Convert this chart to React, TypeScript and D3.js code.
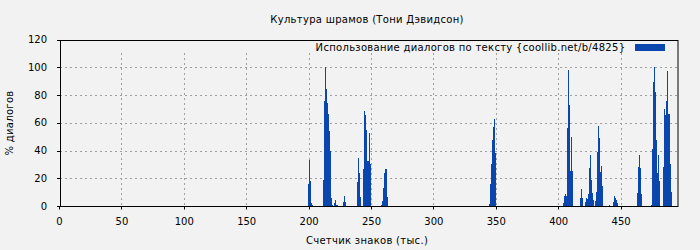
import React from "react";
import * as d3 from "d3";

// Chart text
const TITLE = "Культура шрамов (Тони Дэвидсон)";
const X_LABEL = "Счетчик знаков (тыс.)";
const Y_LABEL = "% диалогов";
const LEGEND = "Использование диалогов по тексту {coollib.net/b/4825}";

// Tick labels
const X_TICKS = [0, 50, 100, 150, 200, 250, 300, 350, 400, 450];
const Y_TICKS = [0, 20, 40, 60, 80, 100, 120];

// Bin width (thousand characters)
const BIN = 0.8;

// Segment starts (thousand characters) and their consecutive bin values (% dialogue)
const SEG_STARTS = [198.7, 210.7, 219.6, 226.8, 238.0, 242.8, 257.2, 343.8, 403.0, 416.7, 420.7, 439.9, 443.1, 462.3, 473.6, 483.2];
const SEG_A = [16, 33, 18, 2, 1];
const SEG_B = [19, 76, 100, 84, 74, 66, 54, 40, 6, 1];
const SEG_C = [2, 4, 1, 0.5];
const SEG_D = [3, 7, 3];
const SEG_E = [17, 34.5, 23.5, 6.7];
const SEG_F = [27, 68.6, 65.5, 55, 32.6, 32.6, 52.7, 30];
const SEG_G = [0.5, 3.3, 13, 24, 27, 27, 6.7];
const SEG_K = [1.4, 16, 30, 47.5, 56.6, 62.4, 38];
const SEG_H = [2, 7, 9, 7, 56, 98, 73, 25, 50, 25];
const SEG_I = [5.8, 12, 5.8];
const SEG_J = [3, 5.8, 5.3, 8.6, 27.6, 36.7, 18.7, 9.6, 4.3, 0, 3.3, 10, 38.8, 57.5, 48.7, 24.5, 28.8, 14.4];
const SEG_S = [0.7];
const SEG_L = [3, 7.2, 6, 4.3, 2.4];
const SEG_N = [9.6, 28.3, 36.7, 27.6, 8.6];
const SEG_O = [1, 41, 89.5, 100, 82, 47.5, 24, 36.7, 18.2];
const SEG_P = [27.8, 69.8, 65.5, 75.5, 97.4, 66, 66, 30, 10];
const SEG_VALUES = [SEG_A, SEG_B, SEG_C, SEG_D, SEG_E, SEG_F, SEG_G, SEG_K, SEG_H, SEG_I, SEG_J, SEG_S, SEG_L, SEG_N, SEG_O, SEG_P];

const X_MAX = 495.2;
const Y_MAX = 120;

const W = 700;
const H = 250;
const M = { left: 60, right: 22, top: 39.5, bottom: 44 };
const FONT = "'DejaVu Sans', sans-serif";
const BAR = "#0a46ad";
const BG = "#f2f2f2";
const GRID = "#a0a0a0";
const LS = 0.3;

export default function App() {
  const x = d3.scaleLinear().domain([0, X_MAX]).range([M.left, W - M.right]);
  const y = d3.scaleLinear().domain([0, Y_MAX]).range([H - M.bottom, M.top]);
  const bars: { k: string; x0: number; v: number }[] = [];
  SEG_STARTS.forEach((s, si) => {
    SEG_VALUES[si].forEach((v, i) => {
      bars.push({ k: `${si}-${i}`, x0: s + i * BIN, v });
    });
  });
  const bw = x(BIN) - x(0);
  const [x0, x1] = x.range();
  const [yb, yt] = y.range();
  const gridTop = 53;

  return (
    <svg
      width={W}
      height={H}
      style={{ position: "absolute", left: 0, top: 0, background: BG }}
      fontFamily={FONT}
      fontSize={10}
    >
      <rect x={0} y={0} width={W} height={H} fill={BG} />
      {/* grid */}
      {Y_TICKS.filter((t) => t > 0 && t < Y_MAX).map((t) => (
        <line key={"gy" + t} x1={x0} x2={x1} y1={Math.round(y(t)) + 0.5} y2={Math.round(y(t)) + 0.5}
          stroke={GRID} strokeDasharray="2,3" />
      ))}
      {X_TICKS.filter((t) => t > 0).map((t) => (
        <line key={"gx" + t} x1={Math.round(x(t)) - 0.5} x2={Math.round(x(t)) - 0.5} y1={gridTop} y2={yb}
          stroke={GRID} strokeDasharray="2,3" />
      ))}
      {/* bars */}
      {bars.map((b) => (
        <rect key={b.k} x={x(b.x0)} width={bw + 0.15} y={y(b.v)} height={yb - y(b.v)}
          fill={BAR} shapeRendering="crispEdges" />
      ))}
      {/* frame */}
      <rect x={x0 + 0.5} y={Math.round(yt) + 0.5} width={x1 - x0 - 0.5} height={Math.round(yb) - Math.round(yt)}
        fill="none" stroke="#000" strokeWidth={1} />
      {/* y ticks */}
      {Y_TICKS.map((t) => (
        <g key={"yt" + t}>
          <line x1={x0 - 3} x2={x0} y1={Math.round(y(t)) + 0.5} y2={Math.round(y(t)) + 0.5} stroke="#000" />
          <text x={x0 - 13} y={y(t)} dy="0.36em" textAnchor="end" fill="#000">{t}</text>
        </g>
      ))}
      {/* x ticks */}
      {X_TICKS.map((t) => (
        <g key={"xt" + t}>
          <line x1={Math.round(x(t)) - 0.5} x2={Math.round(x(t)) - 0.5} y1={Math.round(yb) + 0.5} y2={Math.round(yb) + 3.5} stroke="#000" />
          <text x={x(t) - 0.5} y={225} textAnchor="middle" fill="#000">{t}</text>
        </g>
      ))}
      {/* title & labels */}
      <text x={367} y={22.5} textAnchor="middle" fill="#000" letterSpacing={LS}>{TITLE}</text>
      <text x={367} y={243.5} textAnchor="middle" fill="#000" letterSpacing={LS}>{X_LABEL}</text>
      <text transform={`translate(13,123) rotate(-90)`} textAnchor="middle" fill="#000" letterSpacing={LS}>{Y_LABEL}</text>
      {/* legend */}
      <text x={625.3} y={51.3} textAnchor="end" fill="#000" letterSpacing={LS}>{LEGEND}</text>
      <rect x={635} y={44} width={30} height={7} fill={BAR} />
    </svg>
  );
}
